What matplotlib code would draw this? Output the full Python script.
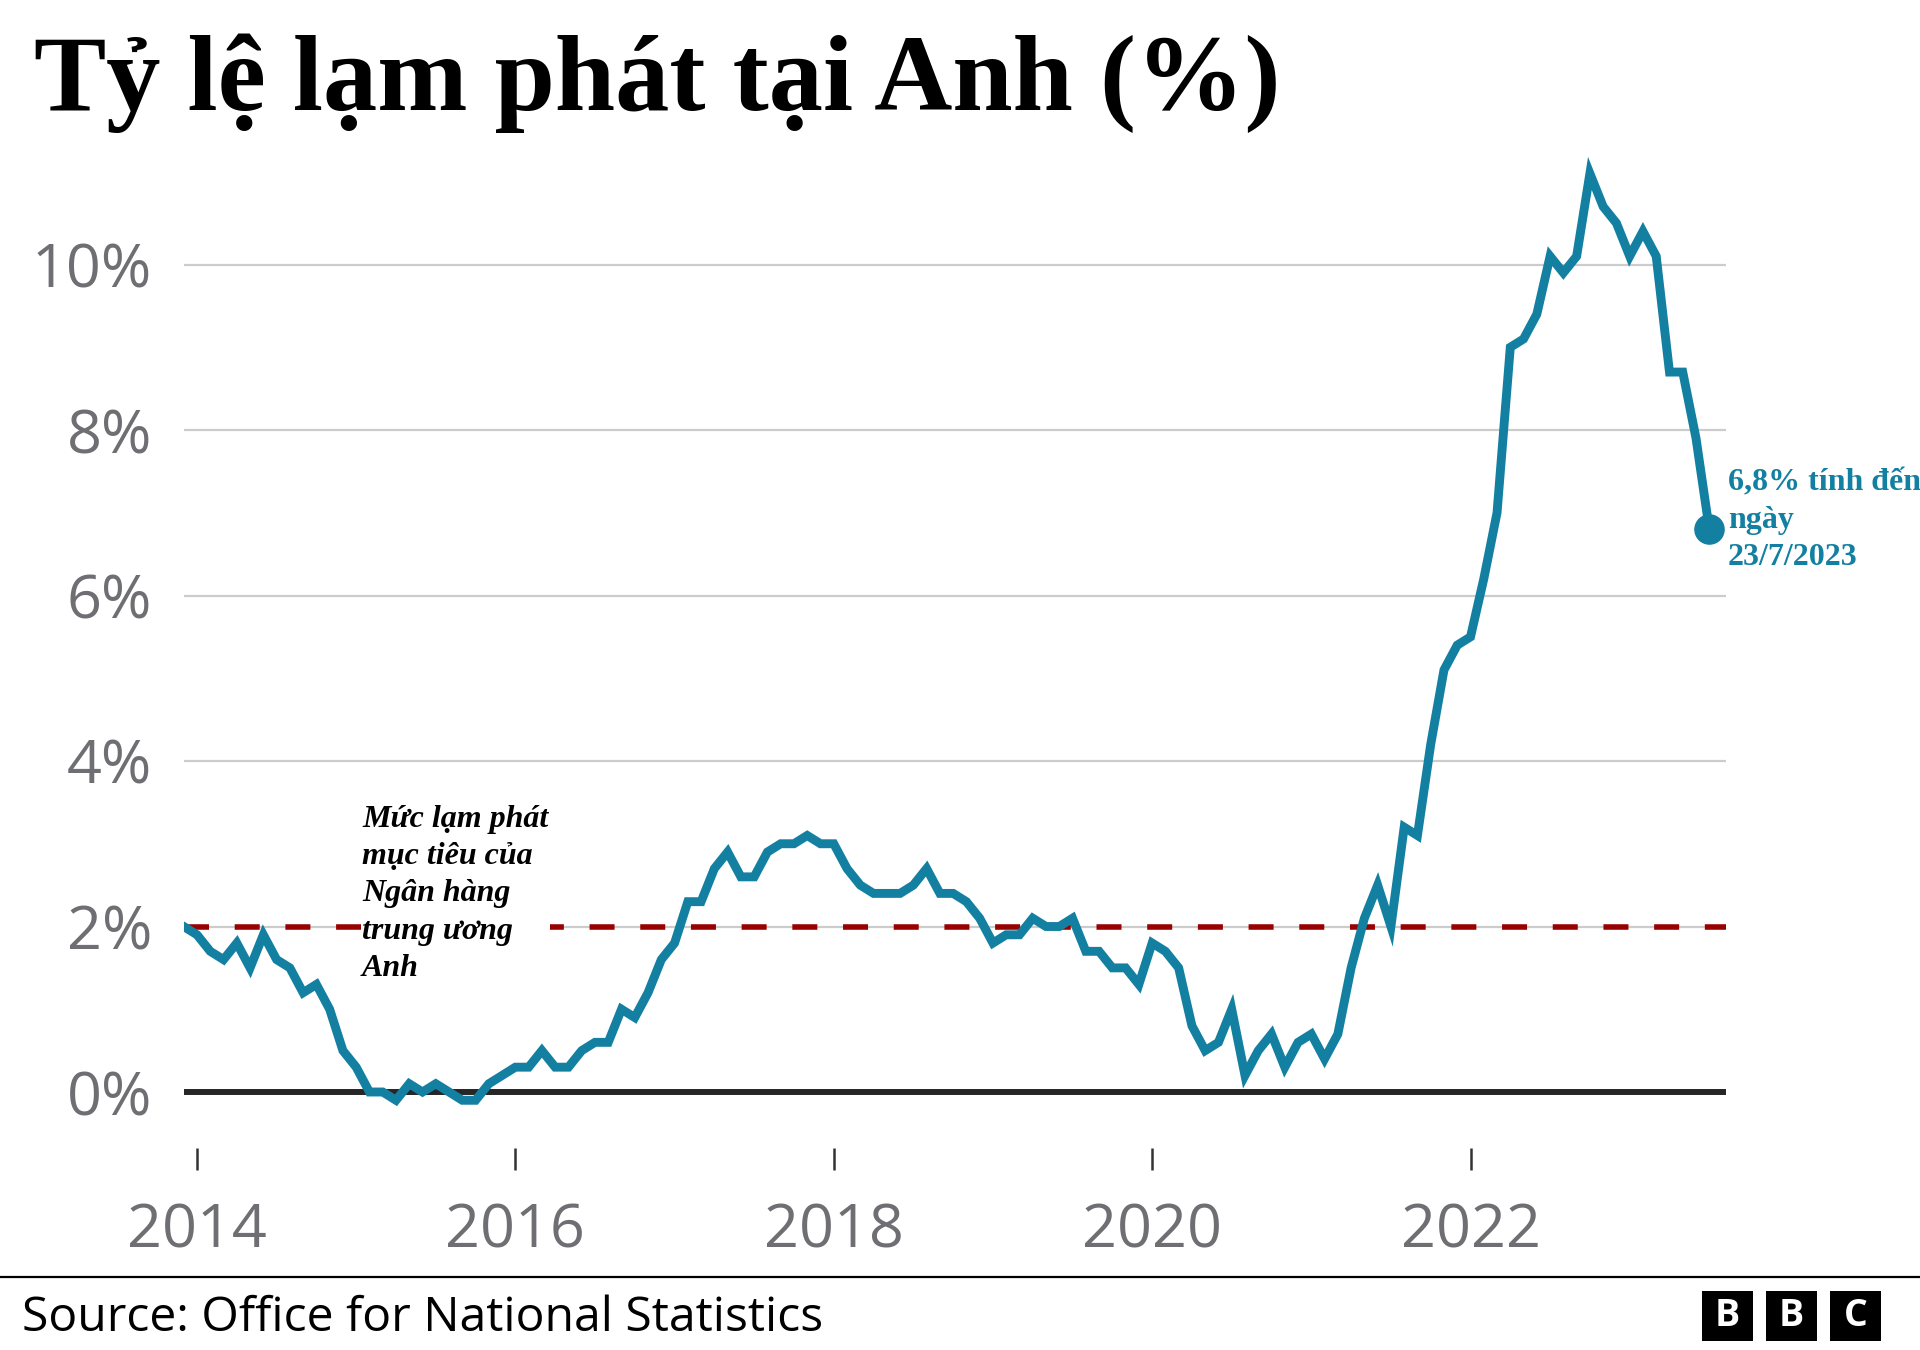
import numpy as np
import pandas as pd
import matplotlib
matplotlib.use("Agg")
import matplotlib.pyplot as plt
from matplotlib.patches import Rectangle

# ---------------- data ----------------
start_month = "2013-12"
end_month = "2023-07"
cpi = [
    2.0,
    1.9, 1.7, 1.6, 1.8, 1.5, 1.9, 1.6, 1.5, 1.2, 1.3, 1.0, 0.5,
    0.3, 0.0, 0.0, -0.1, 0.1, 0.0, 0.1, 0.0, -0.1, -0.1, 0.1, 0.2,
    0.3, 0.3, 0.5, 0.3, 0.3, 0.5, 0.6, 0.6, 1.0, 0.9, 1.2, 1.6,
    1.8, 2.3, 2.3, 2.7, 2.9, 2.6, 2.6, 2.9, 3.0, 3.0, 3.1, 3.0,
    3.0, 2.7, 2.5, 2.4, 2.4, 2.4, 2.5, 2.7, 2.4, 2.4, 2.3, 2.1,
    1.8, 1.9, 1.9, 2.1, 2.0, 2.0, 2.1, 1.7, 1.7, 1.5, 1.5, 1.3,
    1.8, 1.7, 1.5, 0.8, 0.5, 0.6, 1.0, 0.2, 0.5, 0.7, 0.3, 0.6,
    0.7, 0.4, 0.7, 1.5, 2.1, 2.5, 2.0, 3.2, 3.1, 4.2, 5.1, 5.4,
    5.5, 6.2, 7.0, 9.0, 9.1, 9.4, 10.1, 9.9, 10.1, 11.1, 10.7, 10.5,
    10.1, 10.4, 10.1, 8.7, 8.7, 7.9, 6.8,
]
target = 2.0
year_ticks = [2014, 2016, 2018, 2020, 2022]
y_ticks = [0, 2, 4, 6, 8, 10]
y_tick_labels = ["0%", "2%", "4%", "6%", "8%", "10%"]

title = "Tỷ lệ lạm phát tại Anh (%)"
target_label = "Mức lạm phát\nmục tiêu của\nNgân hàng\ntrung ương\nAnh"
end_label = "6,8% tính đến\nngày\n23/7/2023"
source = "Source: Office for National Statistics"

periods = pd.period_range(start_month, end_month, freq="M")
x = np.array([p.year + (p.month - 1) / 12 for p in periods])
y = np.array(cpi)

# ---------------- style ----------------
TEAL = "#1380A1"
RED = "#990000"
GRAY_TXT = "#6E6E73"
GRID = "#CCCCCC"
plt.rcParams["lines.scale_dashes"] = False

W, H = 1920, 1350
fig = plt.figure(figsize=(W / 100, H / 100), dpi=100)
fig.patch.set_facecolor("white")

# axes geometry (pixels)
px_left, px_right = 184, 1726
y0_px, y10_px = 1092, 264.5
per = (y0_px - y10_px) / 10
ylo, yhi = -0.68, 11.5
ax_bottom_px = y0_px - ylo * per
ax_top_px = y0_px - yhi * per
ax = fig.add_axes([px_left / W, 1 - ax_bottom_px / H,
                   (px_right - px_left) / W, (ax_bottom_px - ax_top_px) / H])
ax.set_facecolor("none")
ax.set_ylim(ylo, yhi)
x_per_year = (1470.5 - 197) / 8
x_left = 2014 - (197 - px_left) / x_per_year
x_right = 2014 + (px_right - 197) / x_per_year
ax.set_xlim(x_left, x_right)

for s in ax.spines.values():
    s.set_visible(False)

# grid lines
for t in y_ticks[1:]:
    ax.axhline(t, color=GRID, lw=1.6, zorder=1)
ax.axhline(0, color="#262626", lw=4.3, zorder=2)

# target dashed line
ax.axhline(target, color=RED, lw=4.0, dashes=(18, 18.5), zorder=2)

# data line
ax.plot(x, y, color=TEAL, lw=6.4, solid_joinstyle="miter", zorder=6)
ax.plot(x[-1], y[-1], "o", color=TEAL, markersize=21, zorder=7)

# ticks
ax.set_yticks(y_ticks)
ax.set_yticklabels(y_tick_labels)
ax.tick_params(axis="y", length=0, pad=23, labelsize=44, labelcolor=GRAY_TXT)
ax.set_xticks(year_ticks)
ax.set_xticklabels([str(v) for v in year_ticks])
ax.tick_params(axis="x", length=16, width=1.8, color="#333333", pad=22,
               labelsize=44, labelcolor=GRAY_TXT)
for lab in ax.get_xticklabels() + ax.get_yticklabels():
    lab.set_fontfamily("Open Sans")

# title
fig.text(34 / W, 1 - 110 / H, title, fontsize=78, fontweight="bold",
         family="Liberation Serif", ha="left", va="baseline", color="black")

# target annotation (white box hides dashes behind it); baseline = last line
fig.text(362 / W, 1 - 976 / H, target_label, fontsize=23, fontweight="bold",
         style="italic", family="Liberation Serif", ha="left", va="baseline",
         linespacing=1.38, color="black", zorder=4,
         bbox=dict(facecolor="white", edgecolor="none", pad=1))

# end label
fig.text(1728 / W, 1 - 565 / H, end_label, fontsize=23, fontweight="bold",
         family="Liberation Serif", ha="left", va="baseline",
         linespacing=1.38, color=TEAL)

# footer
fig.add_artist(plt.Line2D([0, 1], [1 - 1277 / H, 1 - 1277 / H],
                          transform=fig.transFigure, color="black", lw=1.6))
fig.text(22 / W, 1 - 1331 / H, source, fontsize=34.7, family="Open Sans",
         ha="left", va="baseline", color="black")

# BBC blocks
for i, letter in enumerate("BBC"):
    bx = 1702 + i * 64
    fig.add_artist(Rectangle((bx / W, 1 - 1341 / H), 51 / W, 50 / H,
                             transform=fig.transFigure, facecolor="black",
                             edgecolor="none"))
    fig.text((bx + 25.5) / W, 1 - 1316 / H, letter, fontsize=27,
             fontweight="bold", family="Open Sans", color="white",
             ha="center", va="center")

fig.savefig("out.png", dpi=100)
